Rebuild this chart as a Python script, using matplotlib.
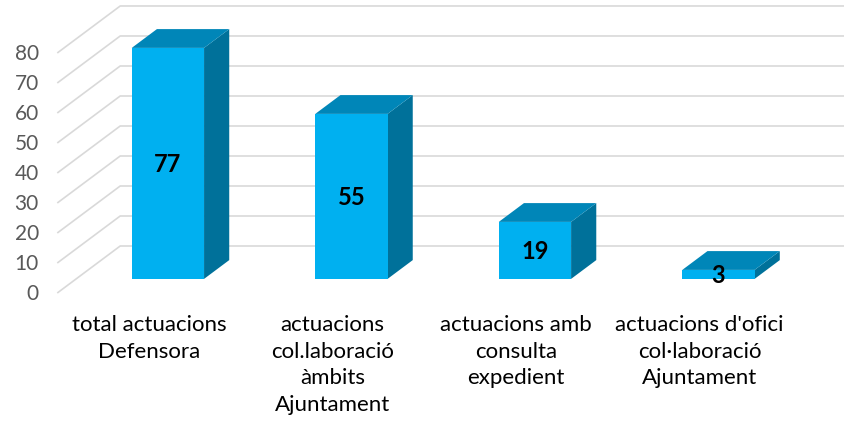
import matplotlib.pyplot as plt
from matplotlib.patches import Polygon

# Data
categories = ['total actuacions\nDefensora',
              'actuacions\ncol.laboració\nàmbits\nAjuntament',
              'actuacions amb\nconsulta\nexpedient',
              "actuacions d'ofici\ncol·laboració\nAjuntament"]
values = [77, 55, 19, 3]
yticks = [0, 10, 20, 30, 40, 50, 60, 70, 80]

# Colours
front_col = '#00B0F0'
top_col = '#0086B8'
side_col = '#00719A'
grid_col = '#D9D9D9'
text_col = '#595959'

plt.rcParams['font.family'] = ['Lato', 'DejaVu Sans']

fig = plt.figure(figsize=(8.44, 4.27), dpi=100)
ax = fig.add_axes([0, 0, 1, 1])
ax.axis('off')
ax.set_xlim(-0.812, 3.787)
ax.set_ylim(-44.33, 98)

# 3D projection offsets (full depth of the floor) in data units
DX = 0.343
DY = 15.67
bar_d0, bar_d1 = 0.30, 0.70   # bar front / back depth
half_w = 0.197

# Gridlines: diagonal on the side wall, horizontal on the back wall
for v in yticks:
    ax.plot([-0.5, -0.5 + DX, 3.5 + DX], [v, v + DY, v + DY],
            color=grid_col, lw=1.2, zorder=1, solid_capstyle='butt')
    ax.text(-0.6, v, str(v), ha='right', va='center', fontsize=15, color=text_col)

# Bars
for i, v in enumerate(values):
    x0 = i + bar_d0 * DX - half_w
    x1 = i + bar_d0 * DX + half_w
    yb = bar_d0 * DY
    ddx = (bar_d1 - bar_d0) * DX
    ddy = (bar_d1 - bar_d0) * DY
    front = Polygon([(x0, yb), (x1, yb), (x1, yb + v), (x0, yb + v)],
                    closed=True, facecolor=front_col, edgecolor='none', zorder=3)
    top = Polygon([(x0, yb + v), (x1, yb + v), (x1 + ddx, yb + v + ddy), (x0 + ddx, yb + v + ddy)],
                  closed=True, facecolor=top_col, edgecolor='none', zorder=3)
    side = Polygon([(x1, yb), (x1 + ddx, yb + ddy), (x1 + ddx, yb + v + ddy), (x1, yb + v)],
                   closed=True, facecolor=side_col, edgecolor='none', zorder=3)
    for p in (side, top, front):
        ax.add_patch(p)
    ax.text(i + bar_d0 * DX, yb + v / 2, str(v), ha='center', va='center',
            fontsize=17, fontweight='bold', color='black', zorder=5)

# Category labels
for i, c in enumerate(categories):
    ax.text(i, -7.0, c, ha='center', va='top', fontsize=16, color='black',
            linespacing=1.42, multialignment='center')

fig.savefig('out.png', dpi=100)
